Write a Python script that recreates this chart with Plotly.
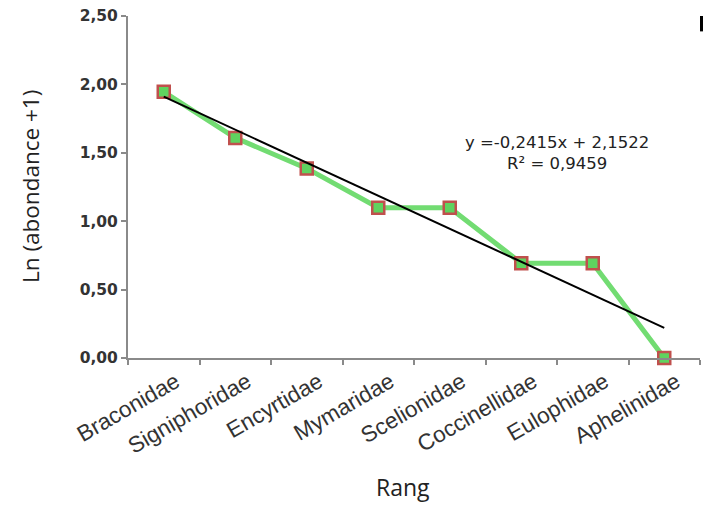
import plotly.graph_objects as go

# Families ranked by abundance and their ln(abundance + 1)
families = ["Braconidae", "Signiphoridae", "Encyrtidae", "Mymaridae",
            "Scelionidae", "Coccinellidae", "Eulophidae", "Aphelinidae"]
ln_abundance = [1.946, 1.609, 1.386, 1.099, 1.099, 0.693, 0.693, 0.000]

# Linear trend (rank 1..8) as reported in the equation label
slope = -0.2415
intercept = 2.1522
r_squared = 0.9459

y_ticks = [0.0, 0.5, 1.0, 1.5, 2.0, 2.5]
y_tick_labels = ["0,00", "0,50", "1,00", "1,50", "2,00", "2,50"]

ranks = list(range(1, len(families) + 1))
trend_x = [families[0], families[-1]]
trend_y = [slope * ranks[0] + intercept, slope * ranks[-1] + intercept]

# plot area in pixels
L, R, T, B = 128, 700, 16, 358
W, H = 703, 505


def px_x(p):
    return (p - L) / (R - L)


def px_y(p):
    return (B - p) / (B - T)


fig = go.Figure()

fig.add_trace(go.Scatter(
    x=families, y=ln_abundance, mode="lines+markers",
    line=dict(color="#72dc72", width=5),
    marker=dict(symbol="square", size=12, color="#5fd35f",
                line=dict(color="#c0504d", width=2.5)),
    cliponaxis=False, showlegend=False,
))

fig.add_trace(go.Scatter(
    x=trend_x, y=trend_y, mode="lines",
    line=dict(color="black", width=2),
    cliponaxis=False, showlegend=False,
))

fmt = lambda v: f"{v:.4f}".replace(".", ",")
eq_text = (f"y ={fmt(slope)}x + {fmt(intercept)}<br>"
           f"R² = {fmt(r_squared)}")
fig.add_annotation(
    x=px_x(557), y=px_y(153), xref="paper", yref="paper",
    text=eq_text, showarrow=False, align="center",
    xanchor="center", yanchor="middle",
    font=dict(family="DejaVu Sans", size=16.5, color="#222"),
)

# axis titles
fig.add_annotation(
    x=px_x(403), y=0, xref="paper", yref="paper", yshift=-(H - B),
    text="Rang", showarrow=False, xanchor="center", yanchor="bottom",
    font=dict(family="Open Sans", size=23, color="#222"),
)
fig.add_annotation(
    x=px_x(30), y=px_y(187), xref="paper", yref="paper",
    text="Ln (abondance +1)", textangle=-90, showarrow=False,
    xanchor="center", yanchor="middle",
    font=dict(family="Open Sans", size=22.5, color="#222"),
)

# small dark mark at the top-right edge
fig.add_shape(type="rect", xref="paper", yref="paper",
              x0=1.0, x1=1.006, y0=0.955, y1=1.0,
              fillcolor="black", line=dict(width=0))

fig.update_layout(
    width=W, height=H,
    margin=dict(l=L, r=W - R, t=T, b=H - B),
    paper_bgcolor="white", plot_bgcolor="white",
    xaxis=dict(
        type="category", range=[-0.5, 7.5],
        showgrid=False, zeroline=False,
        showline=True, linecolor="#8a8a8a", linewidth=2,
        ticks="outside", tickson="boundaries", ticklen=5,
        tickcolor="#8a8a8a", tickwidth=2,
        tickangle=-30, ticklabelshift=12,
        tickfont=dict(family="Liberation Sans", size=22.5, color="#333"),
    ),
    yaxis=dict(
        range=[0, 2.5], tickvals=y_ticks, ticktext=y_tick_labels,
        showgrid=False, zeroline=False,
        showline=True, linecolor="#8a8a8a", linewidth=2,
        ticks="outside", ticklen=5, tickcolor="#8a8a8a", tickwidth=2,
        tickfont=dict(family="DejaVu Sans", size=15.5, color="#333",
                      weight="bold"),
    ),
)

fig.write_html("out.html")
